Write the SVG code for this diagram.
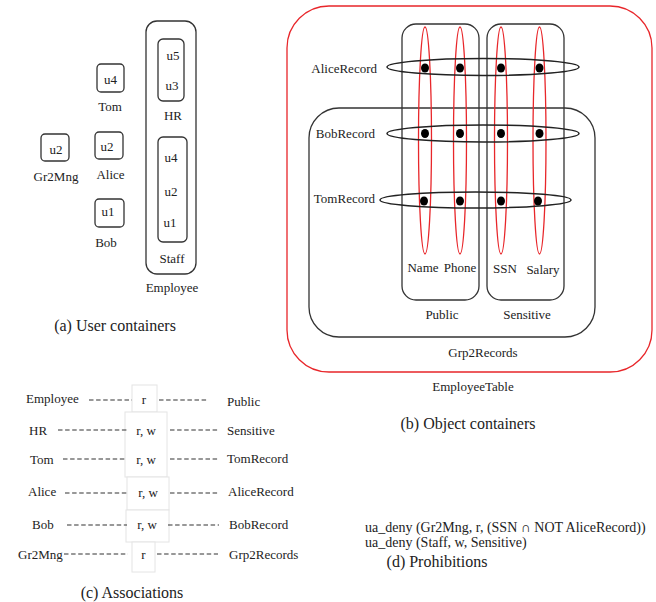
<svg xmlns="http://www.w3.org/2000/svg" width="656" height="602" viewBox="0 0 656 602">
<style>
text{font-family:"Liberation Serif","Times New Roman",serif;font-size:13px;fill:#222}
.t{font-size:16px}
.d{font-size:14px}
.m{text-anchor:middle}
.e{text-anchor:end}
.box{fill:none;stroke:#333;stroke-width:1.3}
.red{fill:none;stroke:#e8262a;stroke-width:1.3}
.rec{fill:none;stroke:#222;stroke-width:1.5}
.dot{fill:#000}
.ab{fill:#fff;stroke:#e4e4e4;stroke-width:1}
.dash{stroke:#333;stroke-width:1.1;stroke-dasharray:4.5 2.6;fill:none}
</style>
<rect width="656" height="602" fill="#fff"/>

<!-- (a) User containers -->
<g id="employee">
<rect class="box" x="146" y="21" width="50" height="253" rx="11"/>
<text class="m" x="172" y="291.5">Employee</text>
</g>
<g id="hr">
<rect class="box" x="158" y="39" width="26" height="62" rx="5"/>
<text class="m" x="173" y="59.5">u5</text>
<text class="m" x="172" y="89.5">u3</text>
<text class="m" x="173" y="119.5">HR</text>
</g>
<g id="staff">
<rect class="box" x="158" y="137" width="29" height="105" rx="5"/>
<text class="m" x="171" y="161.5">u4</text>
<text class="m" x="171" y="195.5">u2</text>
<text class="m" x="170" y="226.5">u1</text>
<text class="m" x="172" y="262.5">Staff</text>
</g>
<g id="tom">
<rect class="box" x="97" y="64" width="27" height="28" rx="4"/>
<text class="m" x="110.5" y="83.5">u4</text>
<text class="m" x="110" y="110.5">Tom</text>
</g>
<g id="alice">
<rect class="box" x="95" y="132" width="28" height="27" rx="4"/>
<text class="m" x="107" y="150.5">u2</text>
<text class="m" x="110.5" y="178.5">Alice</text>
</g>
<g id="bob">
<rect class="box" x="95" y="199" width="29" height="28" rx="4"/>
<text class="m" x="108" y="215.5">u1</text>
<text class="m" x="106" y="246.5">Bob</text>
</g>
<g id="gr2mng">
<rect class="box" x="41" y="134" width="28" height="27" rx="4"/>
<text class="m" x="56" y="153.5">u2</text>
<text class="m" x="56" y="180.5">Gr2Mng</text>
</g>
<text class="t m" x="115" y="330.5">(a) User containers</text>

<!-- (b) Object containers -->
<g id="employeetable">
<rect class="red" x="287" y="6" width="365" height="366" rx="42"/>
<text class="m" x="473" y="390.5">EmployeeTable</text>
</g>
<g id="grp2records">
<rect class="box" x="309" y="108" width="286" height="229" rx="30"/>
<text class="m" x="483" y="356.5">Grp2Records</text>
</g>
<g id="public">
<rect class="box" x="402" y="24" width="77" height="276" rx="14"/>
<text class="m" x="442" y="318.5">Public</text>
</g>
<g id="sensitive">
<rect class="box" x="487" y="24" width="77" height="276" rx="14"/>
<text class="m" x="527" y="318.5">Sensitive</text>
</g>
<g id="name">
<ellipse class="red" cx="425" cy="140.5" rx="6.5" ry="113.5"/>
<text class="m" x="423" y="271.5">Name</text>
</g>
<g id="phone">
<ellipse class="red" cx="460" cy="140.5" rx="6.5" ry="113.5"/>
<text class="m" x="460" y="271.5">Phone</text>
</g>
<g id="ssn">
<ellipse class="red" cx="501" cy="140.5" rx="6.5" ry="113.5"/>
<text class="m" x="505" y="273">SSN</text>
</g>
<g id="salary">
<ellipse class="red" cx="539.5" cy="140.5" rx="6.5" ry="113.5"/>
<text class="m" x="543" y="274">Salary</text>
</g>
<g id="alicerecord">
<ellipse class="rec" cx="483" cy="67" rx="96" ry="8.5"/>
<text class="e" x="377" y="72.5">AliceRecord</text>
<ellipse class="dot" cx="425" cy="68" rx="4" ry="4.5"/>
<ellipse class="dot" cx="460" cy="68" rx="4" ry="4.5"/>
<ellipse class="dot" cx="501" cy="68" rx="4" ry="4.5"/>
<ellipse class="dot" cx="539.5" cy="68" rx="4" ry="4.5"/>
</g>
<g id="bobrecord">
<ellipse class="rec" cx="483" cy="133.5" rx="96" ry="8.5"/>
<text class="e" x="375" y="137.5">BobRecord</text>
<ellipse class="dot" cx="425" cy="133.5" rx="4" ry="4.5"/>
<ellipse class="dot" cx="460" cy="133.5" rx="4" ry="4.5"/>
<ellipse class="dot" cx="501" cy="133.5" rx="4" ry="4.5"/>
<ellipse class="dot" cx="539.5" cy="133.5" rx="4" ry="4.5"/>
</g>
<g id="tomrecord">
<ellipse class="rec" cx="475.5" cy="200" rx="95.5" ry="8"/>
<text class="e" x="375" y="202.5">TomRecord</text>
<ellipse class="dot" cx="424" cy="201" rx="4" ry="4.5"/>
<ellipse class="dot" cx="460" cy="201" rx="4" ry="4.5"/>
<ellipse class="dot" cx="501" cy="201" rx="4" ry="4.5"/>
<ellipse class="dot" cx="538" cy="201" rx="4" ry="4.5"/>
</g>
<text class="t m" x="468" y="428.5">(b) Object containers</text>

<!-- (c) Associations -->
<g id="assoc-boxes">
<rect class="ab" x="132" y="385" width="25" height="27"/>
<rect class="ab" x="125" y="412" width="42" height="65"/>
<rect class="ab" x="127" y="477" width="42" height="33"/>
<rect class="ab" x="126" y="510" width="43" height="32"/>
<rect class="ab" x="132" y="542" width="23" height="30"/>
</g>
<g id="connectors">
<line class="dash" x1="89" y1="400" x2="132" y2="400"/>
<line class="dash" x1="159" y1="400" x2="207" y2="400"/>
<line class="dash" x1="58" y1="430" x2="128" y2="430"/>
<line class="dash" x1="170" y1="430" x2="218" y2="430"/>
<line class="dash" x1="63" y1="459" x2="125" y2="459"/>
<line class="dash" x1="170" y1="459" x2="218" y2="459"/>
<line class="dash" x1="65" y1="493" x2="127" y2="493"/>
<line class="dash" x1="170" y1="493" x2="218" y2="493"/>
<line class="dash" x1="67" y1="525" x2="127" y2="525"/>
<line class="dash" x1="168" y1="525" x2="219" y2="525"/>
<line class="dash" x1="64" y1="554" x2="128" y2="554"/>
<line class="dash" x1="157" y1="554" x2="218" y2="554"/>
</g>
<g id="assoc-labels">
<text x="26" y="402.5">Employee</text>
<text class="m" x="144" y="404">r</text>
<text x="227" y="405.5">Public</text>
<text x="29" y="435">HR</text>
<text class="m" x="146" y="434.5">r, w</text>
<text x="227" y="435">Sensitive</text>
<text x="30" y="463.5">Tom</text>
<text class="m" x="146" y="463.5">r, w</text>
<text x="227" y="463">TomRecord</text>
<text x="28" y="495.5">Alice</text>
<text class="m" x="148" y="497">r, w</text>
<text x="228" y="495.5">AliceRecord</text>
<text x="32" y="528.5">Bob</text>
<text class="m" x="147" y="529">r, w</text>
<text x="229" y="528.5">BobRecord</text>
<text x="18" y="558.5">Gr2Mng</text>
<text class="m" x="143.5" y="558.5">r</text>
<text x="229" y="558.5">Grp2Records</text>
</g>
<text class="t m" x="132" y="597.5">(c) Associations</text>

<!-- (d) Prohibitions -->
<g id="prohibitions">
<text class="d" x="365" y="532">ua_deny (Gr2Mng, r, (SSN ∩ NOT AliceRecord))</text>
<text class="d" x="365" y="547">ua_deny (Staff, w, Sensitive)</text>
</g>
<text class="t m" x="437" y="566.5">(d) Prohibitions</text>
</svg>
